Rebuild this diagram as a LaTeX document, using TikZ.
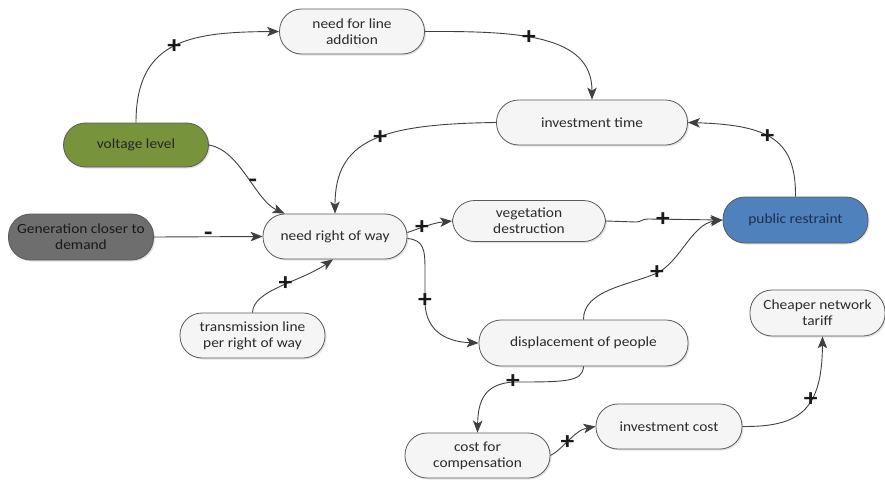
\documentclass[tikz,border=0pt]{standalone}
\usepackage{fontspec}
\setmainfont{Carlito}[FakeStretch=1.1]
\usetikzlibrary{arrows.meta,shadows,calc}

\definecolor{edgegray}{HTML}{404040}
\definecolor{boxline}{HTML}{5A5A5A}
\definecolor{boxfill}{HTML}{F5F5F5}
\definecolor{textgray}{HTML}{2B2B2B}
\definecolor{olive}{HTML}{77933C}
\definecolor{slate}{HTML}{6E6E6E}
\definecolor{steel}{HTML}{4F81BD}
\definecolor{navytext}{HTML}{1F2D4F}

\tikzset{
  box/.style={draw=boxline, line width=0.8pt, fill=boxfill,
    rounded corners=22pt, minimum height=45pt, align=center,
    inner sep=2pt, text=textgray, font=\fontsize{14}{16}\selectfont,
    drop shadow={opacity=0.22, shadow xshift=1.5pt, shadow yshift=-1.5pt}},
  link/.style={draw=edgegray, line width=0.9pt,
    -{Stealth[length=12pt,width=9.5pt,inset=3pt]}},
  sign/.style={font=\bfseries\fontsize{25}{25}\selectfont, text=black!90, inner sep=0pt}
}

\begin{document}
\begin{tikzpicture}[x=1pt,y=-1pt]
\useasboundingbox (0,0) rectangle (885,479);

% variables
\node[box, minimum width=145pt] (nla) at (352,31.5) {need for line\\addition};
\node[box, minimum width=191pt] (it) at (592,122.5) {investment time};
\node[box, minimum width=145pt, minimum height=44pt, fill=olive, text=black!85] (vl) at (136,145) {voltage level};
\node[box, minimum width=145pt, minimum height=46pt, fill=slate, text=black!90] (gen) at (81,237) {Generation closer to\\demand};
\node[box, minimum width=144pt] (nrw) at (335,236.5) {need right of way};
\node[box, minimum width=153pt, minimum height=41pt] (veg) at (529,221) {vegetation\\destruction};
\node[box, minimum width=145pt, minimum height=46pt, fill=steel, text=navytext] (pr) at (795.5,220) {public restraint};
\node[box, minimum width=145pt] (tl) at (252.5,335.5) {transmission line\\per right of way};
\node[box, minimum width=209pt, minimum height=46pt] (dp) at (583.5,343) {displacement of people};
\node[box, minimum width=135pt, minimum height=46pt] (cnt) at (817.5,313) {Cheaper network\\tariff};
\node[box, minimum width=146pt] (ic) at (669,426.5) {investment cost};
\node[box, minimum width=145pt] (cfc) at (477.5,455.5) {cost for\\compensation};

% causal links
\draw[link] (vl.north) .. controls (136,40) and (190,32) .. node[sign,pos=0.5]{+} (nla.west);
\draw[link] (nla.east) .. controls (520,31) and (592,35) .. node[sign,pos=0.42]{+} (it.north);
\draw[link] (it.west) .. controls (380,124) and (335,140) .. node[sign,pos=0.45]{+} (nrw.north);
\draw[link] (vl.east) .. controls (240,150) and (255,200) .. node[sign,pos=0.58]{-} ([xshift=22pt]nrw.north west);
\draw[link] (gen.east) -- node[sign,pos=0.5]{-} (nrw.west);
\draw[link] ([yshift=4pt]nrw.east) .. controls (418,229) and (432,223) .. node[sign,pos=0.4]{+} (veg.west);
\draw[link] (veg.east) -- (636,222) .. controls (641,222) and (642,219) .. (648,219) -- node[sign,pos=0.2]{+} (pr.west);
\draw[link] (pr.north) .. controls (796,140) and (770,125) .. node[sign,pos=0.55]{+} (it.east);
\draw[link] (tl.north) .. controls (253,290) and (300,282) .. node[sign,pos=0.55]{+} ([xshift=-2pt]nrw.south);
\draw[link] ([yshift=-2pt]nrw.east) .. controls (424,240) and (425,250) .. (425,270) -- (425,301) node[sign]{+} .. controls (425,335) and (452,342) .. (dp.west);
\draw[link] (dp.north) .. controls (583,290) and (630,285) .. (657,273) node[sign]{+} .. controls (680,262) and (692,224) .. (pr.west);
\draw[link] (dp.south) .. controls (583,382) and (565,382) .. (513,382) node[sign]{+} .. controls (485,384) and (478,400) .. (cfc.north);
\draw[link] (cfc.east) .. controls (562,450) and (575,430) .. node[sign,pos=0.45]{+} (ic.west);
\draw[link] (ic.east) .. controls (800,427) and (822,410) .. node[sign,pos=0.6]{+} ([xshift=5pt]cnt.south);
\end{tikzpicture}
\end{document}
